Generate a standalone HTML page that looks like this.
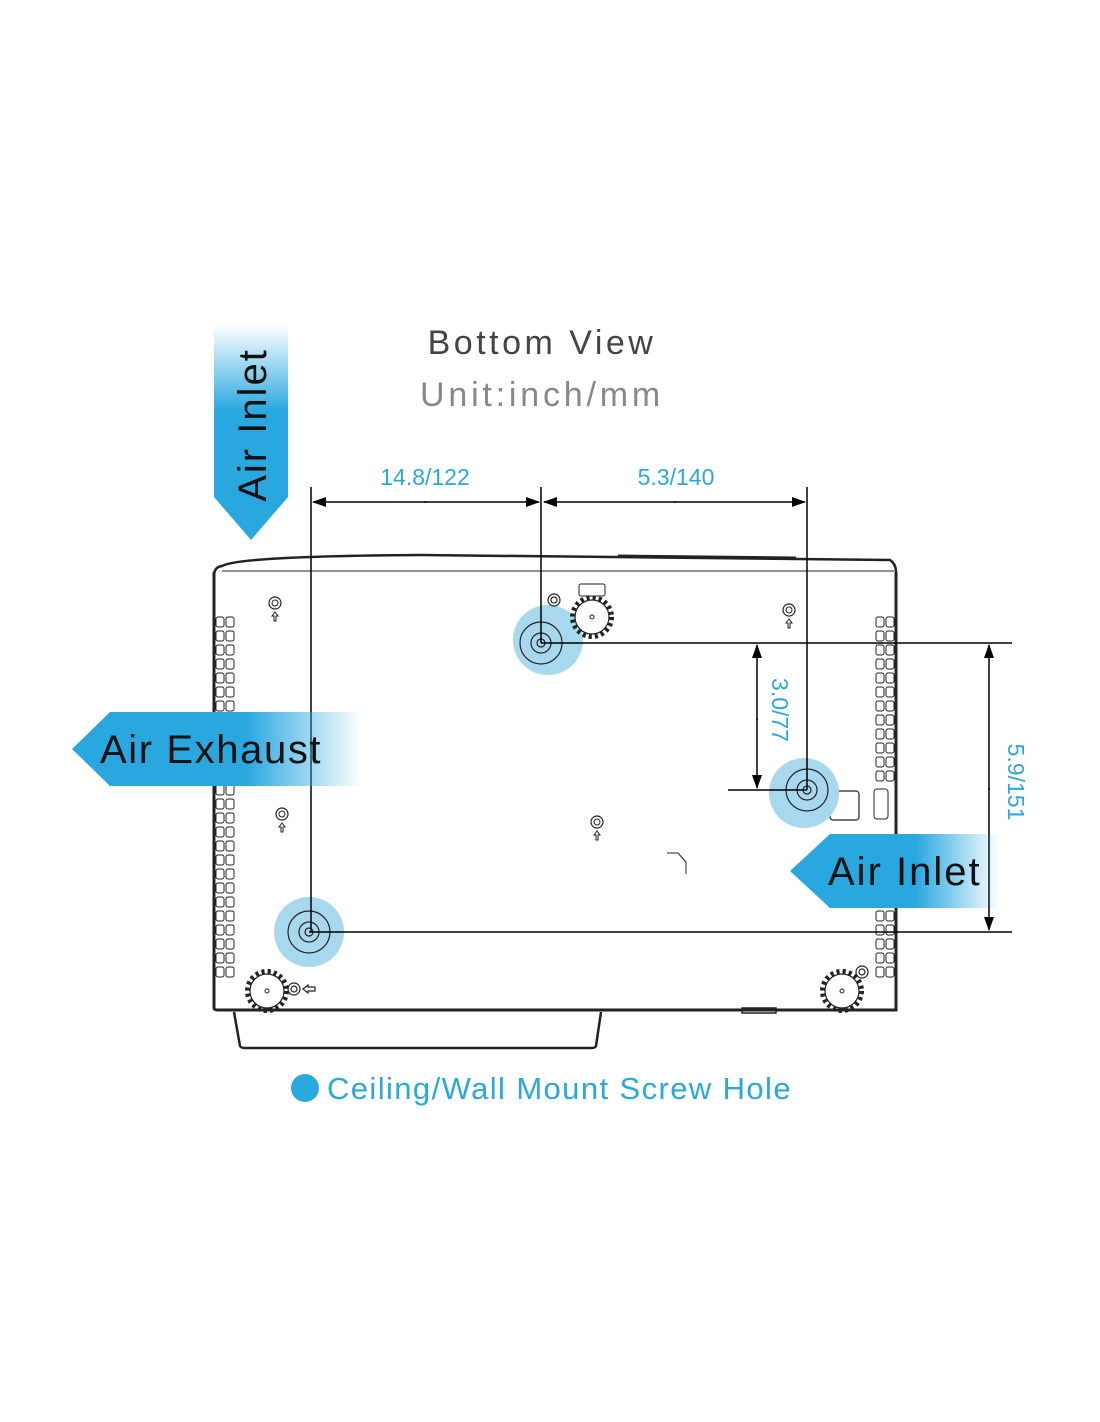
<!DOCTYPE html>
<html><head><meta charset="utf-8"><style>
html,body{margin:0;padding:0;background:#fff;}
svg{display:block;}
text{font-family:"Liberation Sans",sans-serif;}
</style></head><body>
<svg width="1100" height="1422" viewBox="0 0 1100 1422" xmlns="http://www.w3.org/2000/svg">
<defs>
<linearGradient id="gv" x1="0" y1="0" x2="0" y2="1"><stop offset="0" stop-color="#29a8e0" stop-opacity="0"/><stop offset="0.4" stop-color="#29a8e0"/><stop offset="1" stop-color="#29a8e0"/></linearGradient>
<linearGradient id="gh" x1="0" y1="0" x2="1" y2="0"><stop offset="0" stop-color="#29a8e0"/><stop offset="0.6" stop-color="#29a8e0"/><stop offset="1" stop-color="#29a8e0" stop-opacity="0"/></linearGradient>
<marker id="ar" markerWidth="14" markerHeight="10" refX="13" refY="5" orient="auto" markerUnits="userSpaceOnUse"><path d="M0,0 L14,5 L0,10 Z" fill="#000"/></marker>
<g id="vent"><rect x="0" y="0" width="8" height="10" rx="2" fill="none" stroke="#222" stroke-width="1"/><rect x="10" y="0" width="8" height="10" rx="2" fill="none" stroke="#222" stroke-width="1"/></g>
<g id="gear"><circle r="19" fill="none" stroke="#222" stroke-width="6" stroke-dasharray="3 3"/><circle r="17" fill="#fff" stroke="#222" stroke-width="1.2"/><circle r="2" fill="none" stroke="#222"/></g>
<g id="sh"><circle r="6" fill="none" stroke="#222" stroke-width="1.2"/><circle r="3" fill="none" stroke="#222" stroke-width="1"/><path d="M0,9 l-3,4 h2 v5 h2 v-5 h2 z" fill="none" stroke="#222" stroke-width="1"/></g>
</defs>

<text x="542" y="354" font-size="34" fill="#444" text-anchor="middle" letter-spacing="3.5">Bottom View</text>
<text x="542" y="406" font-size="34" fill="#888" text-anchor="middle" letter-spacing="3.8">Unit:inch/mm</text>

<!-- body -->
<path d="M214,576 Q214,567 222,566 Q240,556 420,555 L890,560 Q896,564 896,572" fill="none" stroke="#222" stroke-width="2.5"/>
<line x1="222" y1="571" x2="894" y2="571" stroke="#222" stroke-width="1"/>
<path d="M214,572 L214,1008 Q214,1010 218,1010 L896,1010 L896,572" fill="none" stroke="#222" stroke-width="3"/>
<path d="M618,556 L796,558" stroke="#222" stroke-width="3"/>
<path d="M234,1012 L240,1046 Q241,1048 245,1048 L592,1048 Q595,1048 596,1046 L601,1012" fill="none" stroke="#222" stroke-width="2.5"/>
<rect x="742" y="1008" width="34" height="5" fill="none" stroke="#222" stroke-width="1.5"/>

<!-- vents -->
<g>
<use href="#vent" x="216" y="617"/><use href="#vent" x="216" y="631"/><use href="#vent" x="216" y="645"/><use href="#vent" x="216" y="659"/><use href="#vent" x="216" y="673"/><use href="#vent" x="216" y="687"/><use href="#vent" x="216" y="701"/>
<use href="#vent" x="216" y="785"/><use href="#vent" x="216" y="799"/><use href="#vent" x="216" y="813"/><use href="#vent" x="216" y="827"/><use href="#vent" x="216" y="841"/><use href="#vent" x="216" y="855"/><use href="#vent" x="216" y="869"/><use href="#vent" x="216" y="883"/><use href="#vent" x="216" y="897"/><use href="#vent" x="216" y="911"/><use href="#vent" x="216" y="925"/><use href="#vent" x="216" y="939"/><use href="#vent" x="216" y="953"/><use href="#vent" x="216" y="967"/>
<use href="#vent" x="876" y="617"/><use href="#vent" x="876" y="631"/><use href="#vent" x="876" y="645"/><use href="#vent" x="876" y="659"/><use href="#vent" x="876" y="673"/><use href="#vent" x="876" y="687"/><use href="#vent" x="876" y="701"/><use href="#vent" x="876" y="715"/><use href="#vent" x="876" y="729"/><use href="#vent" x="876" y="743"/><use href="#vent" x="876" y="757"/><use href="#vent" x="876" y="771"/>
<use href="#vent" x="876" y="911"/><use href="#vent" x="876" y="925"/><use href="#vent" x="876" y="939"/><use href="#vent" x="876" y="953"/><use href="#vent" x="876" y="967"/>
<rect x="874" y="789" width="14" height="30" rx="3" fill="none" stroke="#222"/>
</g>
<rect x="830" y="791" width="29" height="29" rx="3" fill="none" stroke="#222" stroke-width="1.2"/>
<path d="M667,853 L678,853 L686,862 L686,874" fill="none" stroke="#222"/>

<!-- blue screw holes -->
<circle cx="548" cy="640" r="35" fill="#a8d8ee"/>
<circle cx="804" cy="793" r="35" fill="#a8d8ee"/>
<circle cx="309" cy="932" r="35" fill="#a8d8ee"/>
<g fill="none" stroke="#222" stroke-width="1.2">
<circle cx="541" cy="643" r="21"/><circle cx="541" cy="643" r="10"/><circle cx="541" cy="643" r="4"/>
<circle cx="807" cy="790" r="21"/><circle cx="807" cy="790" r="10"/><circle cx="807" cy="790" r="4"/>
<circle cx="309" cy="932" r="21"/><circle cx="309" cy="932" r="10"/><circle cx="309" cy="932" r="4"/>
</g>

<use href="#gear" x="592" y="617"/>
<rect x="579" y="584" width="26" height="12" rx="2" fill="#fff" stroke="#222"/>
<use href="#gear" x="267" y="991"/>
<use href="#gear" x="842" y="991"/>
<g fill="none" stroke="#222" stroke-width="1.2"><circle cx="554" cy="600" r="6"/><circle cx="554" cy="600" r="3"/>
<circle cx="294" cy="989" r="6"/><circle cx="294" cy="989" r="3"/><path d="M303,989 l5,-4 v2 h7 v4 h-7 v2 z"/>
<circle cx="862" cy="972" r="6"/><circle cx="862" cy="972" r="3"/></g>
<use href="#sh" x="275" y="603"/><use href="#sh" x="789" y="610"/><use href="#sh" x="282" y="814"/><use href="#sh" x="597" y="822"/>

<!-- dimension lines -->
<g stroke="#000" stroke-width="1.5" fill="none">
<line x1="311" y1="487" x2="311" y2="932"/>
<line x1="541" y1="487" x2="541" y2="643"/>
<line x1="807" y1="487" x2="807" y2="790"/>
<line x1="541" y1="643" x2="1012" y2="643"/>
<line x1="309" y1="932" x2="1012" y2="932"/>
<line x1="728" y1="790" x2="807" y2="790"/>
<line x1="426" y1="502" x2="313" y2="502" marker-end="url(#ar)"/>
<line x1="424" y1="502" x2="539" y2="502" marker-end="url(#ar)"/>
<line x1="676" y1="502" x2="544" y2="502" marker-end="url(#ar)"/>
<line x1="674" y1="502" x2="805" y2="502" marker-end="url(#ar)"/>
<line x1="757" y1="720" x2="757" y2="645" marker-end="url(#ar)"/>
<line x1="757" y1="718" x2="757" y2="788" marker-end="url(#ar)"/>
<line x1="989" y1="790" x2="989" y2="645" marker-end="url(#ar)"/>
<line x1="989" y1="788" x2="989" y2="930" marker-end="url(#ar)"/>
</g>
<g fill="#29a8e0" font-size="23">
<text x="425" y="485" text-anchor="middle">14.8/122</text>
<text x="676" y="485" text-anchor="middle">5.3/140</text>
<text transform="translate(772,710) rotate(90)" text-anchor="middle">3.0/77</text>
<text transform="translate(1008,782) rotate(90)" text-anchor="middle">5.9/151</text>
</g>

<!-- banners -->
<path d="M214,325 L288,325 L288,497 L251,540 L214,497 Z" fill="url(#gv)"/>
<text transform="translate(266,425) rotate(-90)" font-size="40" fill="#111" text-anchor="middle" letter-spacing="2">Air Inlet</text>
<path d="M72,749 L110,712 L362,712 L362,786 L110,786 Z" fill="url(#gh)"/>
<text x="100" y="763" font-size="40" fill="#111" letter-spacing="1.6">Air Exhaust</text>
<path d="M790,871 L830,834 L1000,834 L1000,908 L830,908 Z" fill="url(#gh)"/>
<text x="828" y="885" font-size="40" fill="#111" letter-spacing="2">Air Inlet</text>

<!-- legend -->
<circle cx="305" cy="1088" r="14" fill="#29a8e0"/>
<text x="327" y="1099" font-size="31" fill="#29a8e0" letter-spacing="1.4">Ceiling/Wall Mount Screw Hole</text>
</svg>
</body></html>
